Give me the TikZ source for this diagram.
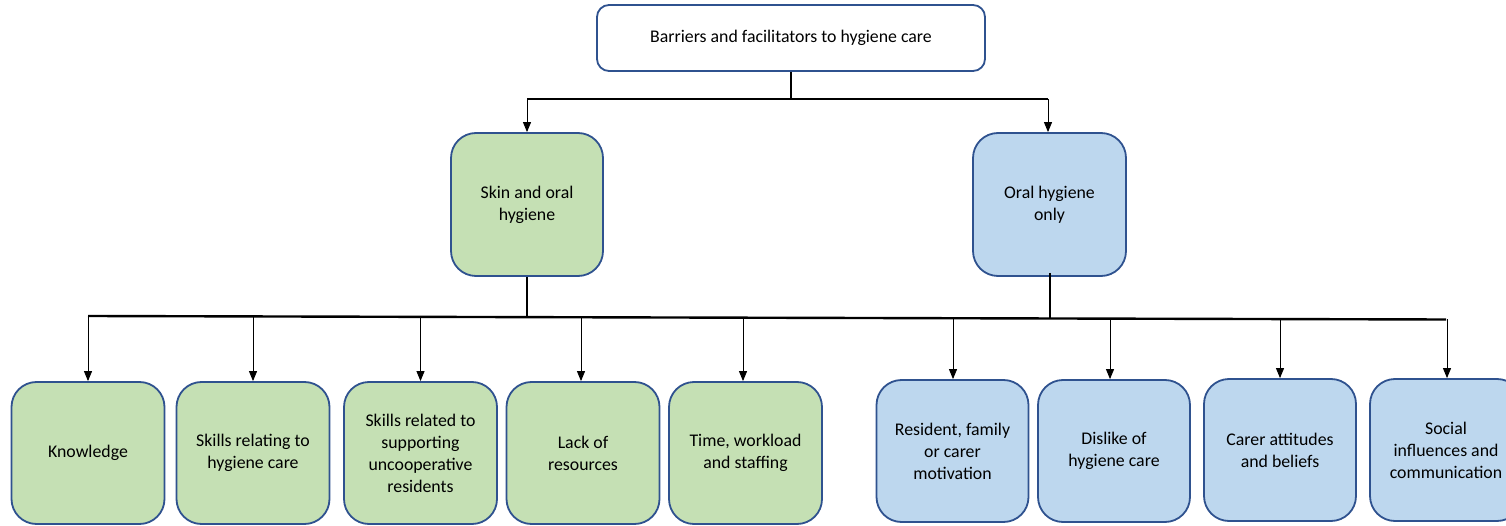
\documentclass[tikz,border=0pt]{standalone}
\usepackage{fontspec}
\setmainfont{Carlito}
\usetikzlibrary{arrows.meta}
\definecolor{bord}{HTML}{2F528F}
\definecolor{gfill}{HTML}{C5E0B4}
\definecolor{bfill}{HTML}{BDD7EE}
\tikzset{
  box/.style={draw=bord, line width=1.8pt, align=center, inner sep=2pt,
    font=\fontsize{17.8}{22}\selectfont},
  topbox/.style={box, fill=white, rounded corners=12pt, minimum width=388pt, minimum height=66pt},
  midg/.style={box, fill=gfill, rounded corners=25pt, minimum width=152pt, minimum height=143pt},
  midb/.style={box, fill=bfill, rounded corners=25pt, minimum width=153pt, minimum height=143pt},
  leafg/.style={box, fill=gfill, rounded corners=25pt, minimum width=153pt, minimum height=142pt},
  leafb/.style={box, fill=bfill, rounded corners=25pt, minimum width=152pt, minimum height=142pt},
  bus/.style={line width=2.4pt, black},
  arr/.style={line width=0.9pt, -{Triangle[length=10pt,width=8pt]}},
}
\begin{document}
\begin{tikzpicture}[x=1pt,y=-1pt]
\clip (0,0) rectangle (1506,526);
\fill[white] (0,0) rectangle (1506,526);

\node[topbox] (top) at (791,38) {Barriers and facilitators to hygiene care};
\node[midg] (skin) at (527,204.5) {Skin and oral\\hygiene};
\node[midb] (oral) at (1049.5,204.5) {Oral hygiene\\only};

\node[leafg] (k1) at (88,453) {Knowledge};
\node[leafg] (k2) at (253,453) {Skills relating to\\hygiene care};
\node[leafg] (k3) at (420.5,453) {Skills related to\\supporting\\uncooperative\\residents};
\node[leafg] (k4) at (583,453) {Lack of\\resources};
\node[leafg] (k5) at (745.5,453) {Time, workload\\and staffing};
\node[leafb] (k6) at (952.5,451) {Resident, family\\or carer\\motivation};
\node[leafb] (k7) at (1114,451) {Dislike of\\hygiene care};
\node[leafb] (k8) at (1280,450) {Carer attitudes\\and beliefs};
\node[leafb] (k9) at (1446,450) {Social\\influences and\\communication};

% top bus
\coordinate (tl) at (527,99);
\coordinate (tr) at (1048,99);
\coordinate (tm) at (791,99);
\draw[bus] (top.south) -- (tm);
\draw[bus] (tl) -- (tr);
\draw[arr] (tl) -- (skin.north);
\draw[arr] (tr) -- (tr |- oral.north);

% lower bus
\coordinate (bl) at (88,316);
\coordinate (br) at (1446,319.5);
\draw[bus] (bl) -- (br);
\coordinate (gs) at (527,317.1);
\coordinate (bs) at (1050,318.5);
\coordinate (bs0) at (1050,273);
\draw[bus] (skin.south) -- (gs);
\draw[bus] (bs0) -- (bs);

\coordinate (c1) at (88,316);
\coordinate (c2) at (253,316.4);
\coordinate (c3) at (420.5,316.9);
\coordinate (c4) at (581,317.3);
\coordinate (c5) at (743,317.7);
\coordinate (c6) at (953,318.2);
\coordinate (c7) at (1110,318.6);
\coordinate (c8) at (1280,319.1);
\coordinate (c9) at (1447,319.5);
\draw[arr] (c1) -- (c1 |- k1.north);
\draw[arr] (c2) -- (c2 |- k2.north);
\draw[arr] (c3) -- (c3 |- k3.north);
\draw[arr] (c4) -- (c4 |- k4.north);
\draw[arr] (c5) -- (c5 |- k5.north);
\draw[arr] (c6) -- (c6 |- k6.north);
\draw[arr] (c7) -- (c7 |- k7.north);
\draw[arr] (c8) -- (c8 |- k8.north);
\draw[arr] (c9) -- (c9 |- k9.north);
\end{tikzpicture}
\end{document}
